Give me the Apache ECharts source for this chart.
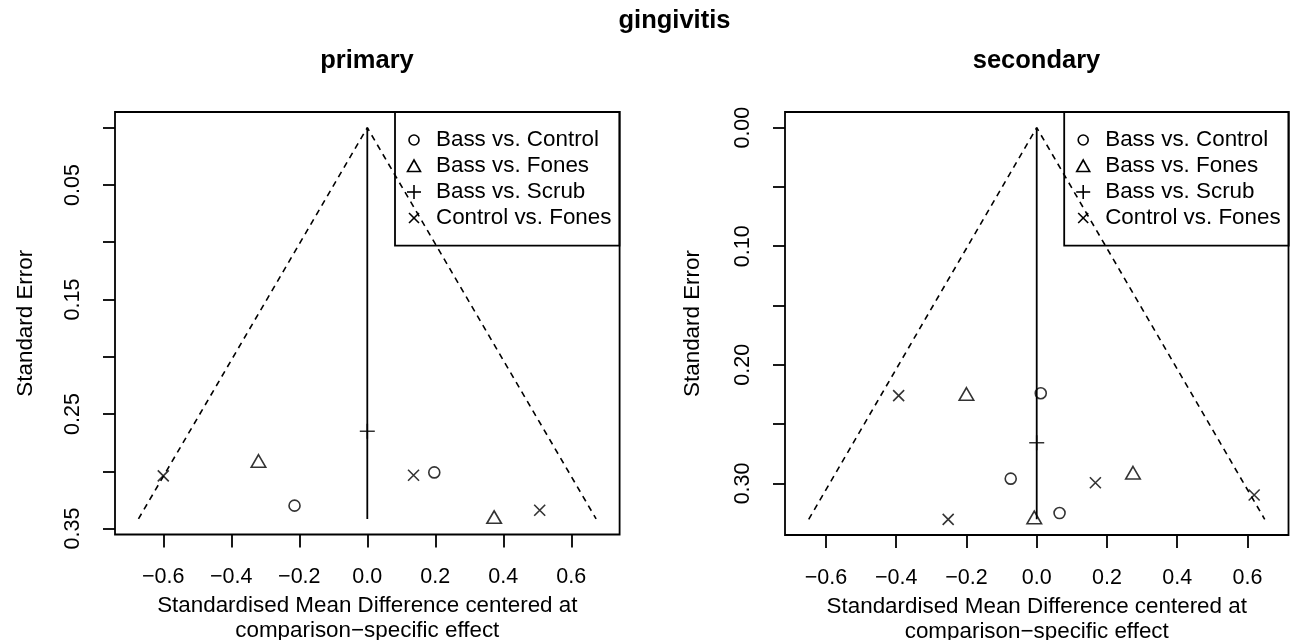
<!DOCTYPE html>
<html>
<head>
<meta charset="utf-8">
<script src="https://cdn.jsdelivr.net/npm/echarts@6/dist/echarts.min.js"></script>
<style>
html,body{margin:0;padding:0;background:#fff;}
#chart{width:1293px;height:640px;}
</style>
</head>
<body>
<div id="chart"></div>
<script>
// ---------------- data ----------------
const comparisons = ['Bass vs. Control', 'Bass vs. Fones', 'Bass vs. Scrub', 'Control vs. Fones'];

// primary outcome: [centered SMD, standard error]
const primaryBassControl = [[-0.214, 0.330], [0.197, 0.301]];
const primaryBassFones = [[-0.320, 0.291], [0.373, 0.340]];
const primaryBassScrub = [[0.000, 0.265]];
const primaryControlFones = [[-0.600, 0.304], [0.136, 0.3035], [0.507, 0.334]];
const primaryFunnel = [[-0.673, 0.3416], [0, 0], [0.673, 0.3416]];
const primaryRefLine = [[0, 0], [0, 0.3416]];

// secondary outcome
const secondaryBassControl = [[0.0115, 0.224], [-0.074, 0.296], [0.065, 0.325]];
const secondaryBassFones = [[-0.200, 0.2246], [0.274, 0.291], [-0.007, 0.3287]];
const secondaryBassScrub = [[0.000, 0.2657]];
const secondaryControlFones = [[-0.393, 0.226], [0.167, 0.2994], [0.619, 0.3098], [-0.252, 0.3303]];
const secondaryFunnel = [[-0.649, 0.3303], [0, 0], [0.649, 0.3303]];
const secondaryRefLine = [[0, 0], [0, 0.3303]];

// ticks and labels
const xTickValues = [-0.6, -0.4, -0.2, 0, 0.2, 0.4, 0.6];
const xTickLabels = ['\u22120.6', '\u22120.4', '\u22120.2', '0.0', '0.2', '0.4', '0.6'];
const primaryYTickValues = [0, 0.05, 0.10, 0.15, 0.20, 0.25, 0.30, 0.35];
const primaryYLabelValues = [0.05, 0.15, 0.25, 0.35];
const primaryYLabels = ['0.05', '0.15', '0.25', '0.35'];
const secondaryYTickValues = [0, 0.05, 0.10, 0.15, 0.20, 0.25, 0.30];
const secondaryYLabelValues = [0, 0.10, 0.20, 0.30];
const secondaryYLabels = ['0.00', '0.10', '0.20', '0.30'];

const mainTitle = 'gingivitis';
const panelTitles = ['primary', 'secondary'];
const xAxisTitle = 'Standardised Mean Difference centered at\ncomparison\u2212specific effect';
const yAxisTitle = 'Standard Error';

// ---------------- layout / style ----------------
const FONT = 'Liberation Sans';
const LW = 1.8;
const SW = 1.6;
const panels = [
  { grid: { left: 115, top: 112, width: 504.6, height: 422.5 }, xr: [-0.742, 0.742], yr: [-0.0137, 0.3552],
    yTicks: primaryYTickValues, yLabVals: primaryYLabelValues, yLabs: primaryYLabels, yNameGap: 78,
    series: [primaryBassControl, primaryBassFones, primaryBassScrub, primaryControlFones],
    funnel: primaryFunnel, ref: primaryRefLine, titleX: 367, legendX: 395 },
  { grid: { left: 785, top: 112, width: 503.5, height: 423 }, xr: [-0.7165, 0.7167], yr: [-0.0132, 0.3435],
    yTicks: secondaryYTickValues, yLabVals: secondaryYLabelValues, yLabs: secondaryYLabels, yNameGap: 81,
    series: [secondaryBassControl, secondaryBassFones, secondaryBassScrub, secondaryControlFones],
    funnel: secondaryFunnel, ref: secondaryRefLine, titleX: 1036.5, legendX: 1064.2 }
];

const symbols = ['circle', 'triangle', 'path://M0,5L10,5M5,0L5,10', 'path://M0,0L10,10M10,0L0,10'];
const symbolSizes = [11, [14.5, 12.5], 15, 11];

function lookup(vals, labs) {
  return function (v) {
    for (let i = 0; i < vals.length; i++) if (Math.abs(vals[i] - v) < 1e-9) return labs[i];
    return '';
  };
}

const grids = [], xAxes = [], yAxes = [], series = [], titles = [], graphics = [];

titles.push({ text: mainTitle, left: 674.5, top: 21, padding: 0, textAlign: 'center', textVerticalAlign: 'middle',
  textStyle: { fontFamily: FONT, fontWeight: 'bold', fontSize: 25.5, color: '#000' } });

panels.forEach(function (p, k) {
  grids.push(Object.assign({ show: true, borderColor: '#000', borderWidth: LW, backgroundColor: 'transparent',
    containLabel: false, outerBoundsMode: 'none' }, p.grid));
  titles.push({ text: panelTitles[k], left: p.titleX, top: 60.5, padding: 0, textAlign: 'center', textVerticalAlign: 'middle',
    textStyle: { fontFamily: FONT, fontWeight: 'bold', fontSize: 25.5, color: '#000' } });
  xAxes.push({
    type: 'value', gridIndex: k, position: 'bottom', min: p.xr[0], max: p.xr[1],
    axisLine: { show: false, onZero: false },
    axisTick: { show: true, length: 13, customValues: xTickValues, lineStyle: { color: '#000', width: LW } },
    axisLabel: { customValues: xTickValues, formatter: lookup(xTickValues, xTickLabels), margin: 32,
      fontFamily: FONT, fontSize: 21.5, color: '#000' },
    splitLine: { show: false },
    name: xAxisTitle, nameLocation: 'middle', nameGap: 55,
    nameTextStyle: { fontFamily: FONT, fontSize: 22.4, color: '#000', lineHeight: 25 }
  });
  yAxes.push({
    type: 'value', gridIndex: k, position: 'left', inverse: true, min: p.yr[0], max: p.yr[1],
    axisLine: { show: false, onZero: false },
    axisTick: { show: true, length: 12, customValues: p.yTicks, lineStyle: { color: '#000', width: LW } },
    axisLabel: { customValues: p.yLabVals, formatter: lookup(p.yLabVals, p.yLabs), rotate: 90, margin: 31,
      fontFamily: FONT, fontSize: 21.5, color: '#000' },
    splitLine: { show: false },
    name: yAxisTitle, nameLocation: 'middle', nameGap: p.yNameGap,
    nameTextStyle: { fontFamily: FONT, fontSize: 22.4, color: '#000' }
  });
  series.push({ type: 'line', xAxisIndex: k, yAxisIndex: k, data: p.funnel, symbol: 'none', silent: true,
    lineStyle: { color: '#000', width: SW, type: [6, 5] } });
  series.push({ type: 'line', xAxisIndex: k, yAxisIndex: k, data: p.ref, symbol: 'none', silent: true,
    lineStyle: { color: '#000', width: LW } });
  p.series.forEach(function (d, i) {
    series.push({ type: 'scatter', name: comparisons[i], xAxisIndex: k, yAxisIndex: k, data: d,
      symbol: symbols[i], symbolSize: symbolSizes[i],
      itemStyle: { color: 'rgba(0,0,0,0)', borderColor: '#000', borderWidth: SW } });
  });

  // legend box (drawn as graphic so each panel has its own)
  const bx = p.legendX, by = 112, bw = 224.5, bh = 133.6;
  const children = [{ type: 'rect', shape: { x: bx, y: by, width: bw, height: bh },
    style: { fill: 'none', stroke: '#000', lineWidth: LW } }];
  comparisons.forEach(function (name, i) {
    const cy = by + 28 + 26 * i, cx = bx + 19;
    const st = { fill: 'none', stroke: '#000', lineWidth: SW };
    if (i === 0) children.push({ type: 'circle', shape: { cx: cx, cy: cy, r: 5 }, style: st });
    if (i === 1) children.push({ type: 'polygon', shape: { points: [[cx, cy - 6], [cx + 6.5, cy + 5.5], [cx - 6.5, cy + 5.5]] }, style: st });
    if (i === 2) {
      children.push({ type: 'line', shape: { x1: cx - 7, y1: cy, x2: cx + 7, y2: cy }, style: st });
      children.push({ type: 'line', shape: { x1: cx, y1: cy - 7, x2: cx, y2: cy + 7 }, style: st });
    }
    if (i === 3) {
      children.push({ type: 'line', shape: { x1: cx - 5, y1: cy - 5, x2: cx + 5, y2: cy + 5 }, style: st });
      children.push({ type: 'line', shape: { x1: cx + 5, y1: cy - 5, x2: cx - 5, y2: cy + 5 }, style: st });
    }
    children.push({ type: 'text', x: bx + 41, y: cy, style: { text: name, fontFamily: FONT, fontSize: 22.4, fill: '#000',
      textAlign: 'left', textVerticalAlign: 'middle' } });
  });
  graphics.push({ type: 'group', children: children });
});

const chart = echarts.init(document.getElementById('chart'), null, { renderer: 'canvas' });
chart.setOption({
  animation: false,
  backgroundColor: '#fff',
  title: titles,
  grid: grids,
  xAxis: xAxes,
  yAxis: yAxes,
  series: series,
  graphic: graphics,
  tooltip: { show: false }
});
</script>
</body>
</html>
